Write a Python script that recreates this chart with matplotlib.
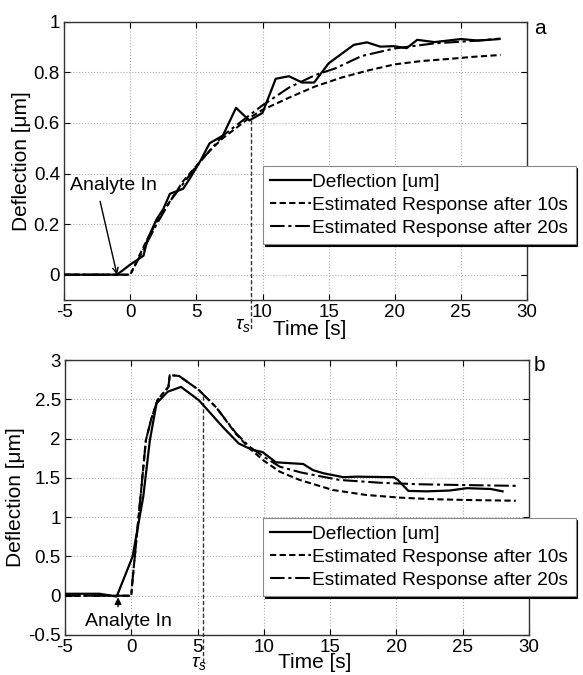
import matplotlib
matplotlib.use('Agg')
import matplotlib.pyplot as plt
import numpy as np

plt.rcParams['font.family'] = ['Liberation Sans', 'DejaVu Sans']
plt.rcParams['axes.unicode_minus'] = False
plt.rcParams['mathtext.fontset'] = 'custom'
plt.rcParams['mathtext.rm'] = 'Liberation Sans'
plt.rcParams['mathtext.it'] = 'Liberation Sans:italic'

# ---- panel a data ----
a_meas_t = [-5, -1, 0, 1, 1.3, 2, 2.5, 3, 4, 4.5, 5.3, 6, 7, 8, 9, 10, 11, 12, 13, 13.9,
            15, 16.9, 17.9, 18.9, 19.9, 20.9, 21.7, 23, 25, 26.3, 27.9]
a_meas_y = [0, 0, 0.04, 0.075, 0.14, 0.22, 0.26, 0.32, 0.34, 0.38, 0.45, 0.52, 0.55, 0.66,
            0.61, 0.64, 0.775, 0.785, 0.76, 0.76, 0.836, 0.909, 0.919, 0.902, 0.904, 0.896,
            0.929, 0.92, 0.932, 0.926, 0.932]
a_est10_t = [-5, 0, 1, 2, 3, 4, 5, 6, 7, 8, 9, 10, 12, 14, 16, 18, 20, 22, 24, 26, 28]
a_est10_y = [0, 0, 0.11, 0.21, 0.29, 0.37, 0.43, 0.49, 0.54, 0.58, 0.62, 0.652, 0.70, 0.745,
             0.78, 0.808, 0.832, 0.845, 0.853, 0.862, 0.869]
a_est20_t = [-5, 0, 1, 2, 3, 4, 5, 6, 7, 8, 9, 10, 12, 14, 15.5, 17.5, 20, 23, 26, 28]
a_est20_y = [0, 0, 0.10, 0.20, 0.29, 0.36, 0.43, 0.49, 0.55, 0.59, 0.63, 0.67, 0.74, 0.79,
             0.816, 0.865, 0.895, 0.915, 0.925, 0.934]

# ---- panel b data ----
b_meas_t = [-5, -2.4, -1.1, 0.1, 0.9, 1.4, 1.9, 2.75, 3.75, 5.1, 6.9, 8.1, 9.1, 9.9, 10.9,
            12.97, 13.7, 14.5, 16, 17, 19.8, 20.1, 20.9, 22.3, 24, 25.3, 27.1, 28]
b_meas_y = [0.025, 0.025, -0.01, 0.5, 1.26, 1.98, 2.45, 2.6, 2.66, 2.49, 2.15, 1.94, 1.86,
            1.83, 1.70, 1.678, 1.60, 1.56, 1.51, 1.517, 1.51, 1.475, 1.335, 1.33, 1.34,
            1.37, 1.36, 1.33]
b_est20_t = [-5, 0, 0.05, 1.1, 1.5, 2.0, 2.8, 2.9, 3.6, 5.1, 6.4, 7.9, 8.9, 10, 11.2, 12.8,
             13.7, 15.7, 18.7, 21.7, 25, 29]
b_est20_y = [0, 0, 0.12, 1.98, 2.25, 2.5, 2.66, 2.81, 2.80, 2.62, 2.40, 2.07, 1.90, 1.77,
             1.644, 1.57, 1.54, 1.475, 1.44, 1.42, 1.41, 1.40]
b_est10_t = [-5, 0, 0.05, 1.1, 1.5, 2.0, 2.8, 2.9, 3.6, 5.1, 6.4, 7.9, 8.9, 10, 11.2, 12.7,
             15.2, 17.7, 20.2, 22.7, 25.2, 29]
b_est10_y = [0, 0, 0.12, 1.98, 2.25, 2.5, 2.66, 2.81, 2.80, 2.62, 2.40, 2.06, 1.88, 1.72,
             1.58, 1.475, 1.347, 1.284, 1.25, 1.23, 1.22, 1.21]

labels = ['Deflection [um]', 'Estimated Response after 10s', 'Estimated Response after 20s']
x_ticks = [-5, 0, 5, 10, 15, 20, 25, 30]

short_dash = (0, (3, 1.6))
dash_dot = (0, (7, 1.8, 1.5, 1.8))


def style_axes(ax):
    ax.grid(True, color='#b0b0b0', linestyle=':', linewidth=0.8)
    ax.tick_params(direction='in', top=True, right=True, length=4, labelsize=13.5, pad=3)
    for s in ax.spines.values():
        s.set_color('#333333')
        s.set_linewidth(1.0)
    ax.set_xticks(x_ticks)
    ax.set_xlim(-5, 30)


def add_legend(ax, anchor_y):
    h, l = ax.get_legend_handles_labels()
    order = [2, 0, 1]
    leg = ax.legend([h[i] for i in order], [l[i] for i in order], loc='upper left',
                    bbox_to_anchor=(263 / 583, anchor_y), bbox_transform=fig.transFigure,
                    fontsize=13.8, handlelength=2.1, handletextpad=0.1, labelspacing=0.3,
                    borderpad=0.38, borderaxespad=0, fancybox=False, framealpha=1,
                    edgecolor='#888888',
                    shadow={'color': 'black', 'alpha': 1, 'ox': 1.2, 'oy': -1.5})
    leg.get_frame().set_linewidth(0.8)
    return leg


fig = plt.figure(figsize=(5.83, 6.75), dpi=100)
ax1 = fig.add_axes([0.110, 0.5556, 0.794, 0.412])
ax2 = fig.add_axes([0.1115, 0.0593, 0.796, 0.407])

# panel a
ax1.plot(a_est10_t, a_est10_y, color='black', lw=1.5, linestyle=short_dash, label=labels[1], zorder=3)
ax1.plot(a_est20_t, a_est20_y, color='black', lw=1.5, linestyle=dash_dot, label=labels[2], zorder=3)
ax1.plot(a_meas_t, a_meas_y, color='black', lw=1.6, label=labels[0], zorder=4)
style_axes(ax1)
ax1.set_ylim(-0.1, 1)
ax1.set_yticks([0, 0.2, 0.4, 0.6, 0.8, 1])
ax1.set_yticklabels(['0', '0.2', '0.4', '0.6', '0.8', '1'])
ax1.set_ylabel('Deflection [\u03bcm]', fontsize=15, labelpad=2)
ax1.set_xlabel('Time [s]', fontsize=15)
ax1.xaxis.set_label_coords(0.531, -0.072)
ax1.plot([9.1, 9.1], [0.61, -0.214], color='#333333', lw=1.0, linestyle=short_dash, clip_on=False, zorder=2)
ax1.text(8.5, -0.2, r'$\tau_s$', fontsize=14, ha='center', va='center', zorder=5)
ax1.text(-4.55, 0.353, 'Analyte In', fontsize=14, ha='left', va='center')
ax1.annotate('', xy=(-1, 0), xytext=(-2.28, 0.29),
             arrowprops=dict(arrowstyle='->', color='black', lw=1.0, shrinkA=0, shrinkB=0))
add_legend(ax1, 1 - 166 / 675)
fig.text(0.916, 0.958, 'a', fontsize=15, ha='left', va='center')

# panel b
ax2.plot(b_est10_t, b_est10_y, color='black', lw=1.5, linestyle=short_dash, label=labels[1], zorder=3)
ax2.plot(b_est20_t, b_est20_y, color='black', lw=1.5, linestyle=dash_dot, label=labels[2], zorder=3)
ax2.plot(b_meas_t, b_meas_y, color='black', lw=1.6, label=labels[0], zorder=4)
style_axes(ax2)
ax2.set_ylim(-0.5, 3)
ax2.set_yticks([-0.5, 0, 0.5, 1, 1.5, 2, 2.5, 3])
ax2.set_yticklabels(['-0.5', '0', '0.5', '1', '1.5', '2', '2.5', '3'])
ax2.set_ylabel('Deflection [\u03bcm]', fontsize=15, labelpad=2)
ax2.set_xlabel('Time [s]', fontsize=15)
ax2.xaxis.set_label_coords(0.539, -0.066)
ax2.plot([5.41, 5.41], [2.55, -0.9], color='#333333', lw=1.0, linestyle=short_dash, clip_on=False, zorder=2)
ax2.text(5.1, -0.86, r'$\tau_s$', fontsize=14, ha='center', va='center', zorder=5)
ax2.text(-0.25, -0.33, 'Analyte In', fontsize=14, ha='center', va='center')
ax2.annotate('', xy=(-1, -0.02), xytext=(-1, -0.14),
             arrowprops=dict(arrowstyle='-|>', color='black', lw=1.0, shrinkA=0, shrinkB=0,
                             mutation_scale=10))
add_legend(ax2, 1 - 518 / 675)
fig.text(0.916, 0.459, 'b', fontsize=15, ha='left', va='center')

fig.savefig('out.png', dpi=100)
